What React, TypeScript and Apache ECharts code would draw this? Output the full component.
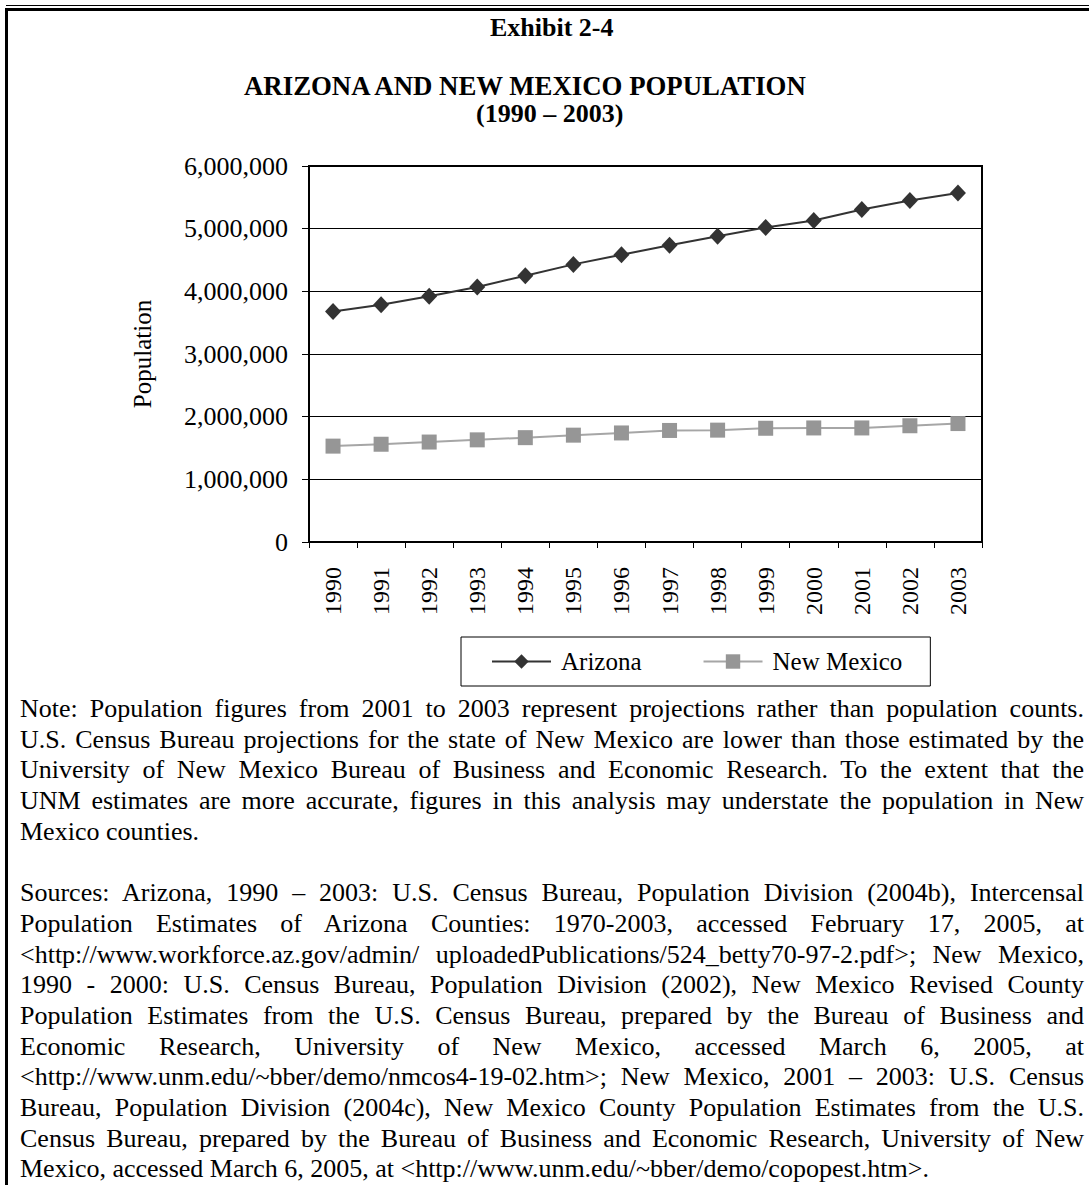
import React, { useEffect, useRef } from "react";
import * as echarts from "echarts";

const years = ["1990", "1991", "1992", "1993", "1994", "1995", "1996", "1997", "1998", "1999", "2000", "2001", "2002", "2003"];
const arizona = [3680000, 3785000, 3920000, 4070000, 4250000, 4430000, 4585000, 4735000, 4880000, 5020000, 5130000, 5305000, 5450000, 5570000];
const newMexico = [1530000, 1560000, 1595000, 1630000, 1665000, 1705000, 1740000, 1780000, 1785000, 1815000, 1820000, 1820000, 1855000, 1890000];
const seriesNames = ["Arizona", "New Mexico"];

const exhibitLabel = "Exhibit 2-4";
const chartTitle = "ARIZONA AND NEW MEXICO POPULATION";
const chartSubtitle = "(1990 \u2013 2003)";
const yAxisName = "Population";

const noteLines = [
  "Note: Population figures from 2001 to 2003 represent projections rather than population counts.",
  "U.S. Census Bureau projections for the state of New Mexico are lower than those estimated by the",
  "University of New Mexico Bureau of Business and Economic Research. To the extent that the",
  "UNM estimates are more accurate, figures in this analysis may understate the population in New",
  "Mexico counties.",
];
const sourceLines = [
  "Sources: Arizona, 1990 \u2013 2003: U.S. Census Bureau, Population Division (2004b), Intercensal",
  "Population Estimates of Arizona Counties: 1970-2003, accessed February 17, 2005, at",
  "<http://www.workforce.az.gov/admin/ uploadedPublications/524_betty70-97-2.pdf>; New Mexico,",
  "1990 - 2000: U.S. Census Bureau, Population Division (2002), New Mexico Revised County",
  "Population Estimates from the U.S. Census Bureau, prepared by the Bureau of Business and",
  "Economic Research, University of New Mexico, accessed March 6, 2005, at",
  "<http://www.unm.edu/~bber/demo/nmcos4-19-02.htm>; New Mexico, 2001 \u2013 2003: U.S. Census",
  "Bureau, Population Division (2004c), New Mexico County Population Estimates from the U.S.",
  "Census Bureau, prepared by the Bureau of Business and Economic Research, University of New",
  "Mexico, accessed March 6, 2005, at <http://www.unm.edu/~bber/demo/copopest.htm>.",
];

const SERIF = "'Liberation Serif', 'Times New Roman', Times, serif";

export default function App() {
  const ref = useRef<HTMLDivElement>(null);

  useEffect(() => {
    document.body.style.margin = "0";
    if (!ref.current) return;
    const chart = echarts.init(ref.current, undefined, { renderer: "svg" });
    const titleStyle = { fontFamily: SERIF, fontSize: 26, lineHeight: 26, fontWeight: "bold" as const, color: "#000" };
    chart.setOption({
      animation: false,
      title: [
        { text: exhibitLabel, left: 490, top: 14, padding: 0, textStyle: titleStyle },
        { text: chartTitle, left: 244, top: 73, padding: 0, textStyle: { ...titleStyle, fontSize: 26.8 } },
        { text: chartSubtitle, left: 476, top: 100, padding: 0, textStyle: titleStyle },
      ],
      grid: { left: 309, top: 166, width: 673, height: 376, show: true, borderColor: "#000", borderWidth: 2, backgroundColor: "transparent" },
      legend: {
        data: seriesNames,
        left: 461,
        top: 637,
        orient: "horizontal",
        padding: [12, 28, 12, 30],
        borderColor: "#000",
        borderWidth: 1,
        itemWidth: 59,
        itemHeight: 18,
        itemGap: 61,
        textStyle: { fontFamily: SERIF, fontSize: 25, color: "#000", padding: [0, 0, 0, 5] },
      },
      xAxis: {
        type: "category",
        data: years,
        boundaryGap: true,
        axisLine: { show: true, lineStyle: { color: "#000", width: 2 } },
        axisTick: { show: true, length: 6, lineStyle: { color: "#000", width: 1 } },
        axisLabel: { rotate: 90, interval: 0, fontFamily: SERIF, fontSize: 24, color: "#000", margin: 25 },
        splitLine: { show: false },
      },
      yAxis: {
        type: "value",
        min: 0,
        max: 6000000,
        interval: 1000000,
        name: yAxisName,
        nameLocation: "middle",
        nameGap: 154,
        nameTextStyle: { fontFamily: SERIF, fontSize: 25, color: "#000" },
        axisLine: { show: true, lineStyle: { color: "#000", width: 2 } },
        axisTick: { show: true, length: 7, lineStyle: { color: "#000", width: 1 } },
        axisLabel: {
          fontFamily: SERIF,
          fontSize: 26,
          color: "#000",
          margin: 21,
          formatter: (v: number) => v.toLocaleString("en-US"),
        },
        splitLine: { show: true, lineStyle: { color: "#000", width: 1 } },
      },
      series: [
        {
          name: seriesNames[0],
          type: "line",
          data: arizona,
          symbol: "diamond",
          symbolSize: [16, 17],
          lineStyle: { color: "#333333", width: 2 },
          itemStyle: { color: "#333333" },
        },
        {
          name: seriesNames[1],
          type: "line",
          data: newMexico,
          symbol: "rect",
          symbolSize: 15,
          lineStyle: { color: "#a6a6a6", width: 2 },
          itemStyle: { color: "#969696" },
        },
      ],
    });
    return () => chart.dispose();
  }, []);

  const lineStyle = (last: boolean): React.CSSProperties => ({
    fontFamily: SERIF,
    fontSize: "26px",
    lineHeight: "30.7px",
    height: "30.7px",
    textAlign: "justify",
    textAlignLast: last ? "left" : "justify",
    color: "#000",
    margin: 0,
    overflow: "visible",
  });

  const renderLines = (lines: string[]) =>
    lines.map((t, i) => (
      <div key={i} style={lineStyle(i === lines.length - 1)}>
        {t}
      </div>
    ));

  return (
    <div style={{ position: "relative", width: 1089, height: 1185, background: "#fff", overflow: "hidden" }}>
      <div ref={ref} style={{ position: "absolute", left: 0, top: 0, width: 1089, height: 700 }} />
      <div style={{ position: "absolute", left: 6, right: 0, top: 5, height: 1, background: "#000" }} />
      <div style={{ position: "absolute", left: 5, right: 0, top: 8, height: 3, background: "#000" }} />
      <div style={{ position: "absolute", left: 5, width: 3, top: 8, bottom: 0, background: "#000" }} />
      <div style={{ position: "absolute", left: 20, width: 1064, top: 694 }}>
        {renderLines(noteLines)}
        <div style={{ height: "30.7px" }} />
        {renderLines(sourceLines)}
      </div>
    </div>
  );
}
